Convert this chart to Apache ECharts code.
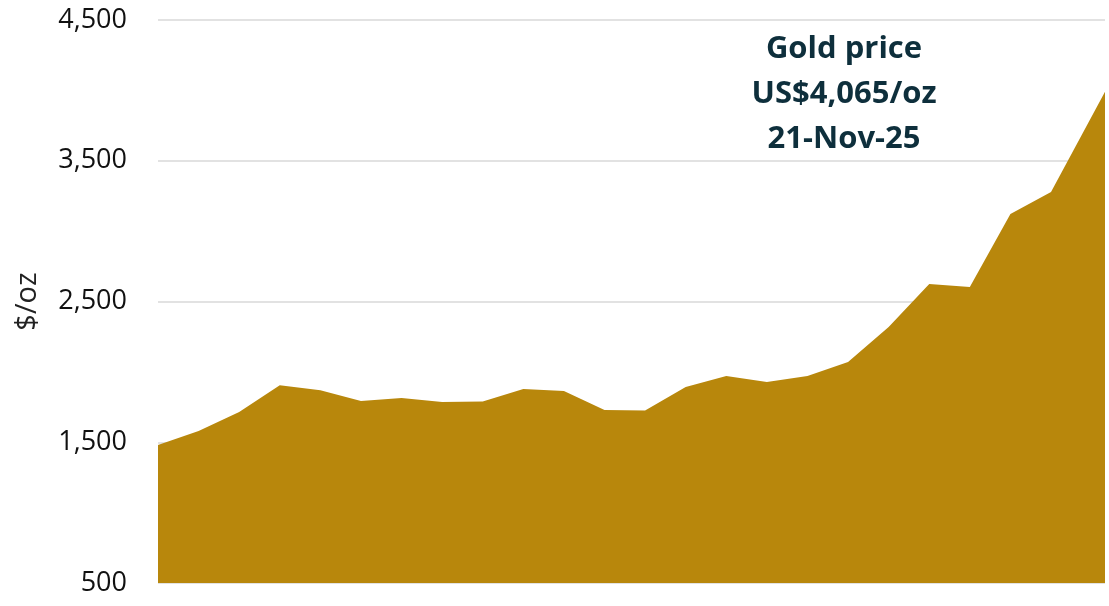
<!DOCTYPE html>
<html>
<head>
<meta charset="utf-8">
<script src="https://cdn.jsdelivr.net/npm/echarts@6/dist/echarts.min.js"></script>
<style>
html,body{margin:0;padding:0;background:#fff;}
#chart{width:1109px;height:606px;}
</style>
</head>
<body>
<div id="chart"></div>
<script>
// Quarter index of each observation (last point is the partial-quarter spot price)
var periods = [0,1,2,3,4,5,6,7,8,9,10,11,12,13,14,15,16,17,18,19,20,21,22,23.33];
// Gold price, US$/oz
var prices = [1480,1580,1715,1905,1870,1793,1814,1786,1790,1878,1864,1729,1726,1893,1971,1928,1971,2070,2319,2624,2603,3122,3278,3990];
var yTicks = [500,1500,2500,3500,4500];
var axisName = '$/oz';
var noteLines = ['Gold price','US$4,065/oz','21-Nov-25'];

var chart = echarts.init(document.getElementById('chart'), null, {renderer:'canvas'});
var seriesData = periods.map(function(p,i){return [p, prices[i]];});

chart.setOption({
  animation:false,
  backgroundColor:'#ffffff',
  grid:{left:158,right:4,top:20,bottom:23,containLabel:false},
  xAxis:{
    type:'value',
    min:periods[0],
    max:periods[periods.length-1],
    show:false
  },
  yAxis:{
    type:'value',
    min:yTicks[0],
    max:yTicks[yTicks.length-1],
    interval:yTicks[1]-yTicks[0],
    name:axisName,
    nameLocation:'middle',
    nameGap:116,
    nameRotate:90,
    nameTextStyle:{fontFamily:'Open Sans',fontSize:29,color:'#222222'},
    axisLine:{show:false},
    axisTick:{show:false},
    axisLabel:{
      margin:31,
      fontFamily:'Open Sans',
      fontSize:27,
      color:'#111111',
      padding:[4,0,0,0],
      formatter:function(v){return v.toLocaleString('en-US');}
    },
    splitLine:{show:true,lineStyle:{color:'#d9d9d9',width:1.5}}
  },
  series:[{
    type:'line',
    data:seriesData,
    symbol:'none',
    smooth:false,
    lineStyle:{width:0,color:'#B8870C'},
    areaStyle:{color:'#B8870C',opacity:1,origin:'start'},
    z:3
  }],
  graphic:[{
    type:'text',
    x:844,
    y:94,
    z:10,
    style:{
      text:noteLines.join('\n'),
      fontFamily:'Open Sans',
      fontWeight:'bold',
      fontSize:31,
      lineHeight:45,
      fill:'#0E2F3C',
      align:'center',
      verticalAlign:'middle'
    }
  }]
});
</script>
</body>
</html>
